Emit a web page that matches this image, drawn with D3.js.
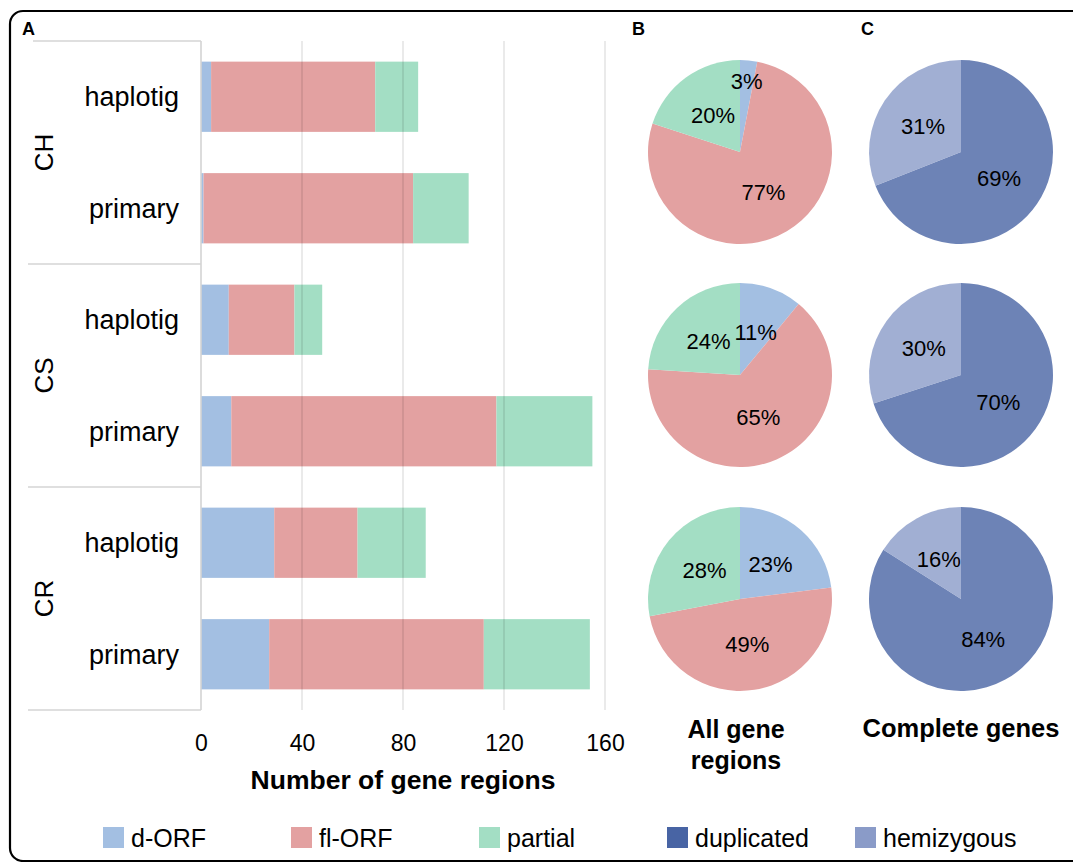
<!DOCTYPE html>
<html lang="en">
<head>
  <meta charset="UTF-8" />
  <title>Gene regions</title>
  <style>
    body { margin: 0; background: #fff; }
    svg text { font-family: "Liberation Sans", Arial, sans-serif; fill: #000; }
  </style>
</head>
<body>
  <div id="chart"></div>
  <script src="https://cdn.jsdelivr.net/npm/d3@7"></script>
  <script>
    // Data
    const groups = ["CH", "CS", "CR"];
    const rowLabels = ["haplotig", "primary", "haplotig", "primary", "haplotig", "primary"];
    const dORF = [4, 1, 11, 12, 29, 27];
    const flORF = [65, 83, 26, 105, 33, 85];
    const partial = [17, 22, 11, 38, 27, 42];
    const xTicks = [0, 40, 80, 120, 160];

    // pie percentages (d-ORF, fl-ORF, partial) and (duplicated, hemizygous)
    const allGenePct = [[3, 77, 20], [11, 65, 24], [23, 49, 28]];
    const completePct = [[69, 31], [70, 30], [84, 16]];

    const barKeys = ["d-ORF", "fl-ORF", "partial"];
    const barColors = ["#a3bfe2", "#e3a1a1", "#a3dec4"];
    const geneKeys = ["duplicated", "hemizygous"];
    const geneColors = ["#4864a4", "#8a9bc8"];

    const width = 1073, height = 862;
    const svg = d3.select("#chart").append("svg")
      .attr("width", width)
      .attr("height", height);

    // frame round the whole figure (right and bottom cut off)
    svg.append("rect")
      .attr("x", 10).attr("y", 11)
      .attr("width", 1080).attr("height", 850)
      .attr("rx", 13)
      .attr("fill", "none")
      .attr("stroke", "#000")
      .attr("stroke-width", 2.2);

    // panel letters
    [["A", 22], ["B", 632], ["C", 861]].forEach(([t, x]) => {
      svg.append("text").attr("x", x).attr("y", 35)
        .style("font-size", "18px").style("font-weight", "bold").text(t);
    });

    // ---- Panel A: stacked bars ----
    const rows = rowLabels.map((r, i) => ({ i, label: r, "d-ORF": dORF[i], "fl-ORF": flORF[i], partial: partial[i] }));

    const x = d3.scaleLinear().domain([0, 160]).range([201, 605]);
    const y = d3.scaleBand().domain(d3.range(rows.length)).range([41, 710])
      .paddingInner(0.37).paddingOuter(0.185);

    const stack = d3.stack().keys(barKeys)(rows);
    const color = d3.scaleOrdinal().domain(barKeys).range(barColors);

    svg.append("g").selectAll("g")
      .data(stack)
      .join("g")
      .attr("fill", d => color(d.key))
      .selectAll("rect")
      .data(d => d)
      .join("rect")
      .attr("x", d => x(d[0]))
      .attr("width", d => x(d[1]) - x(d[0]))
      .attr("y", (d, i) => y(i))
      .attr("height", y.bandwidth());

    // gridlines drawn over the bars, faint
    svg.append("g").selectAll("line")
      .data(xTicks.slice(1))
      .join("line")
      .attr("x1", d => x(d)).attr("x2", d => x(d))
      .attr("y1", 41).attr("y2", 710)
      .attr("stroke", "#000").attr("stroke-opacity", 0.11).attr("stroke-width", 1.5);

    // category box on the left
    const box = svg.append("g").attr("stroke", "#d4d4d4").attr("stroke-width", 1.6);
    box.append("line").attr("x1", 33).attr("x2", 201).attr("y1", 41).attr("y2", 41);
    box.append("line").attr("x1", 201).attr("x2", 201).attr("y1", 41).attr("y2", 710);
    const stepY = y.step();
    [2, 4, 6].forEach(k => {
      const yy = 41 + stepY * k;
      box.append("line").attr("x1", 28).attr("x2", 201).attr("y1", yy).attr("y2", yy);
    });

    svg.append("g").selectAll("text")
      .data(rows)
      .join("text")
      .attr("x", 179)
      .attr("y", d => y(d.i) + y.bandwidth() / 2)
      .attr("dy", "0.36em")
      .attr("text-anchor", "end")
      .style("font-size", "27px")
      .text(d => d.label);

    svg.append("g").selectAll("text")
      .data(groups)
      .join("text")
      .attr("transform", (d, i) => `translate(53, ${41 + stepY * (2 * i + 1)}) rotate(-90)`)
      .attr("text-anchor", "middle")
      .style("font-size", "26px")
      .text(d => d);

    // x axis
    const xAxis = svg.append("g")
      .attr("transform", "translate(0, 710)")
      .call(d3.axisBottom(x).tickValues(xTicks).tickSize(0).tickPadding(41));
    xAxis.select(".domain").remove();
    xAxis.selectAll("text")
      .attr("dy", 0)
      .style("font-size", "23px")
      .style("font-family", "'Liberation Sans', Arial, sans-serif");

    svg.append("text")
      .attr("x", 403).attr("y", 789)
      .attr("text-anchor", "middle")
      .style("font-size", "26.5px").style("font-weight", "bold")
      .text("Number of gene regions");

    // ---- Panels B and C: pies ----
    const pieY = [152, 375, 599];
    const radius = 92;
    const pie = d3.pie().sort(null).value(d => d);
    const arc = d3.arc().innerRadius(0).outerRadius(radius);

    function drawPie(cx, cy, values, colors, opacity) {
      const g = svg.append("g").attr("transform", `translate(${cx}, ${cy})`);
      const arcs = pie(values);
      g.selectAll("path")
        .data(arcs)
        .join("path")
        .attr("d", arc)
        .attr("fill", (d, i) => colors[i])
        .attr("fill-opacity", opacity);
      g.selectAll("text")
        .data(arcs)
        .join("text")
        .attr("transform", d => {
          const a = (d.startAngle + d.endAngle) / 2;
          const r = d.data < 5 ? radius * 0.77 : radius * 0.5;
          return `translate(${Math.sin(a) * r}, ${-Math.cos(a) * r})`;
        })
        .attr("text-anchor", "middle")
        .attr("dy", "0.36em")
        .style("font-size", "22px")
        .text(d => d.data + "%");
    }

    allGenePct.forEach((v, i) => drawPie(740, pieY[i], v, barColors, 1));
    completePct.forEach((v, i) => drawPie(961, pieY[i], v, geneColors, 0.8));

    svg.append("text").attr("x", 736).attr("y", 738)
      .attr("text-anchor", "middle")
      .style("font-size", "25px").style("font-weight", "bold")
      .text("All gene");
    svg.append("text").attr("x", 736).attr("y", 769)
      .attr("text-anchor", "middle")
      .style("font-size", "25px").style("font-weight", "bold")
      .text("regions");
    svg.append("text").attr("x", 961).attr("y", 737)
      .attr("text-anchor", "middle")
      .style("font-size", "25.5px").style("font-weight", "bold")
      .text("Complete genes");

    // ---- legend ----
    const legendKeys = barKeys.concat(geneKeys);
    const legendColors = barColors.concat(geneColors);
    const legend = svg.append("g").selectAll("g")
      .data(legendKeys)
      .join("g")
      .attr("transform", (d, i) => `translate(${103 + i * 188}, 827)`);
    legend.append("rect")
      .attr("width", 21).attr("height", 21)
      .attr("fill", (d, i) => legendColors[i]);
    legend.append("text")
      .attr("x", 28).attr("y", 20)
      .style("font-size", "25px")
      .text(d => d);
  </script>
</body>
</html>
